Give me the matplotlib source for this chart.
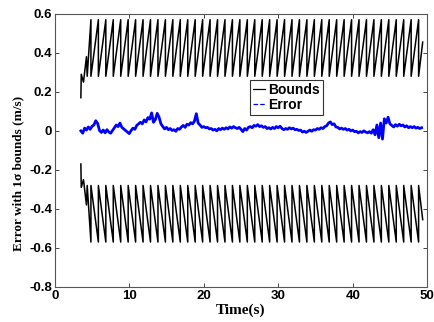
import matplotlib
matplotlib.use('Agg')
import matplotlib.pyplot as plt
from matplotlib.lines import Line2D
import numpy as np

# 1-sigma bounds: early transient, then sawtooth (slow growth, sharp drop at each update)
start_t = [3.5, 3.55, 3.85, 4.25, 4.35]
start_v = [0.17, 0.29, 0.25, 0.38, 0.28]
drop_times = [4.85, 5.85, 6.85, 7.85, 8.85, 9.85, 10.85, 11.85, 12.85, 13.85,
              14.85, 15.85, 16.85, 17.85, 18.85, 19.85, 20.85, 21.85, 22.85, 23.85,
              24.85, 25.85, 26.85, 27.85, 28.85, 29.85, 30.85, 31.85, 32.85, 33.85,
              34.85, 35.85, 36.85, 37.85, 38.85, 39.85, 40.85, 41.85, 42.85, 43.85,
              44.85, 45.85, 46.85, 47.85, 48.85]
peak = 0.57
trough = 0.28
end_t = 49.4
end_v = 0.455

# velocity error, sampled every 0.25 s from 3.5 s
err_t0 = 3.5
err_dt = 0.25
err = [0.000, -0.012,
       0.014, 0.004, 0.020, 0.008,
       0.024, 0.030, 0.052, 0.038,
       0.002, -0.008, 0.004, -0.010,
       0.006, -0.006, -0.012, 0.002,
       0.016, 0.030, 0.022, 0.040,
       0.018, 0.010, 0.002, -0.006,
       -0.014, 0.002, 0.014, 0.008,
       0.028, 0.036, 0.044, 0.036,
       0.056, 0.046, 0.068, 0.060,
       0.092, 0.044, 0.058, 0.090,
       0.070, 0.036, 0.022, 0.010,
       0.018, 0.006, 0.012, 0.002,
       0.006, -0.002, 0.012, 0.008,
       0.020, 0.028, 0.018, 0.034,
       0.030, 0.042, 0.036, 0.050,
       0.088, 0.040, 0.030, 0.018,
       0.022, 0.016, 0.018, 0.010,
       0.012, 0.004, 0.008, 0.000,
       0.012, 0.006, 0.014, 0.008,
       0.016, 0.010, 0.020, 0.014,
       0.022, 0.016, 0.012, 0.018,
       0.008, -0.004, 0.012, 0.004,
       0.018, 0.022, 0.016, 0.028,
       0.024, 0.032, 0.022, 0.026,
       0.018, 0.022, 0.012, 0.016,
       0.010, 0.018, 0.012, 0.022,
       0.016, 0.024, 0.012, 0.006,
       0.012, 0.008, 0.016, 0.010,
       0.014, 0.006, 0.008, 0.002,
       0.004, -0.006, -0.002, -0.008,
       -0.002, 0.004, -0.002, 0.006,
       0.004, 0.012, 0.008, 0.016,
       0.012, 0.022, 0.026, 0.040,
       0.046, 0.032, 0.036, 0.020,
       0.018, 0.010, 0.014, 0.008,
       0.012, 0.004, 0.008, 0.000,
       0.004, -0.004, -0.002, -0.010,
       -0.004, -0.008, 0.000, -0.006,
       -0.010, -0.004, -0.012, 0.006,
       -0.020, 0.030, -0.035, 0.040,
       -0.042, 0.062, 0.040, 0.070,
       0.036, 0.028, 0.020, 0.032,
       0.024, 0.034, 0.026, 0.030,
       0.020, 0.026, 0.016, 0.022,
       0.016, 0.022, 0.014, 0.018,
       0.012, 0.016]

xticks = [0, 10, 20, 30, 40, 50]
yticks = [-0.8, -0.6, -0.4, -0.2, 0, 0.2, 0.4, 0.6]

# build the bound curve
bt = list(start_t)
bv = list(start_v)
for td in drop_times:
    bt += [td, td]
    bv += [peak, trough]
bt.append(end_t)
bv.append(end_v)
bt = np.array(bt)
bv = np.array(bv)

et = err_t0 + err_dt * np.arange(len(err))

fig = plt.figure(figsize=(4.35, 3.22), dpi=100)
ax = fig.add_axes([0.126, 0.109, 0.856, 0.848])

ax.plot(bt, bv, color='black', linewidth=1.1)
ax.plot(bt, -bv, color='black', linewidth=1.1)
ax.plot(et, err, color='#0000ff', linewidth=2.0)

ax.set_xlim(0, 50)
ax.set_ylim(-0.8, 0.6)
ax.set_xticks(xticks)
ax.set_yticks(yticks)
ax.set_xticklabels([str(v) for v in xticks])
ax.set_yticklabels(['-0.8', '-0.6', '-0.4', '-0.2', '0', '0.2', '0.4', '0.6'])
ax.tick_params(direction='in', top=True, right=True, length=3, width=0.7,
               colors='#444444', labelcolor='black', pad=2)
for lbl in ax.get_xticklabels() + ax.get_yticklabels():
    lbl.set_fontfamily('Liberation Sans')
    lbl.set_fontweight('bold')
    lbl.set_fontsize(9.5)
for s in ax.spines.values():
    s.set_color('#555555')
    s.set_linewidth(0.8)

ax.set_xlabel('Time(s)', family='Liberation Serif', fontweight='bold',
              fontsize=11, labelpad=1)
ax.set_ylabel('Error with 1σ bounds (m/s)', family='Liberation Serif',
              fontweight='bold', fontsize=9.5)
ax.yaxis.set_label_coords(-0.082, 0.414)

handles = [Line2D([], [], color='black', linewidth=0.9),
           Line2D([], [], color='#0000ff', linewidth=0.9, linestyle='--')]
leg = ax.legend(handles, ['Bounds', 'Error'], loc='upper left',
                bbox_to_anchor=(0.524, 0.758), fancybox=False, framealpha=1,
                edgecolor='#333333', handlelength=0.9, handletextpad=0.2,
                labelspacing=0.1, borderpad=0.2, borderaxespad=0,
                prop={'family': 'Liberation Sans', 'weight': 'bold', 'size': 10})
leg.get_frame().set_linewidth(0.8)

fig.savefig('out.png', dpi=100)
